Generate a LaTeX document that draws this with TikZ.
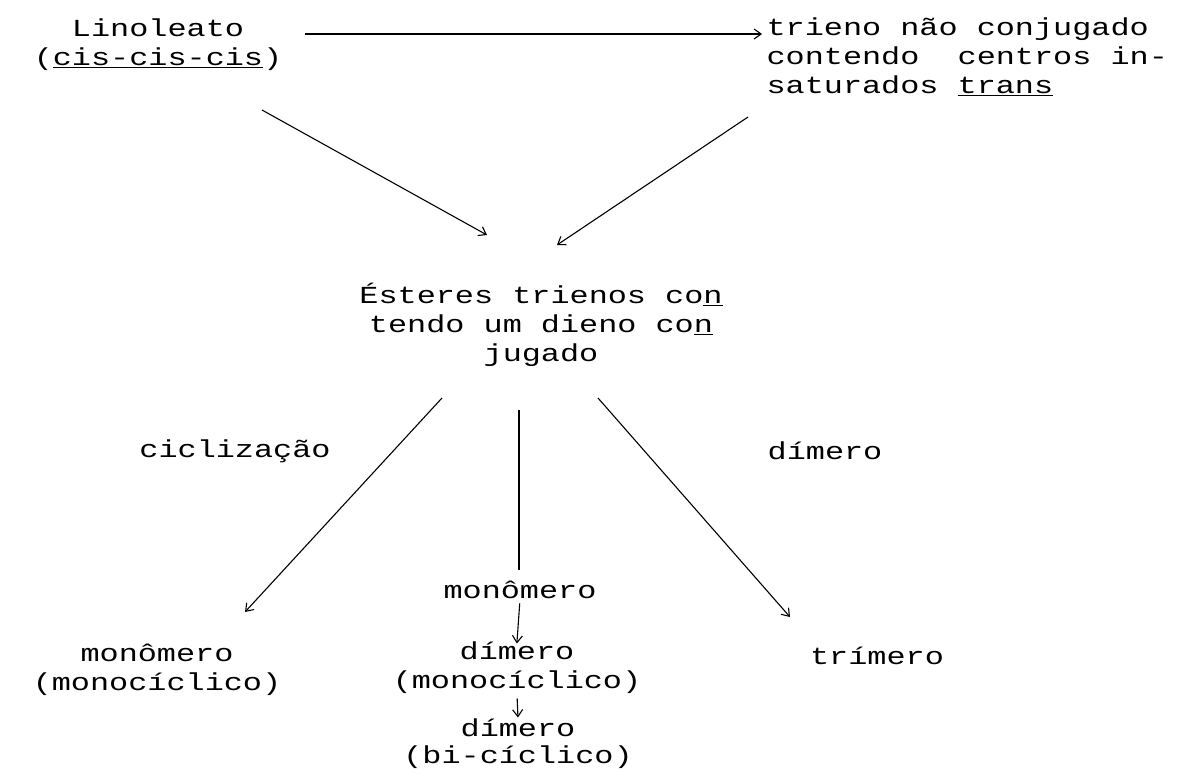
\documentclass[tikz,border=0pt]{standalone}
\usepackage{fontspec}
\newfontfamily\typew{Liberation Mono}[FakeStretch=1.3]
\usetikzlibrary{calc,arrows.meta}
\tikzset {>={Straight Barb[length=7pt,width=10pt]}}
\tikzset{txt/.style={font=\typew\fontsize{24.5}{29}\selectfont,inner sep=0pt,align=center}}

\begin{document}
\begin{tikzpicture}[x=1pt,y=1pt,line width=1.1pt]
\useasboundingbox (0,0) rectangle (1191,-773);
\node[txt] (lin) at (158,-45) {Linoleato\\(\underline{cis-cis-cis})};
\node[txt,anchor=west,align=left] (trans) at (766,-57) {trieno não conjugado\\contendo\ \ centros in-\\saturados \underline{trans}};
\node[txt] (est) at (541,-325) {Ésteres trienos co\underline{n}\\tendo um dieno co\underline{n}\\jugado};
\node[txt] (cicl) at (235,-451) {ciclização};
\node[txt] (dimlab) at (825,-451) {dímero};
\node[txt] (mono) at (157,-670) {monômero\\(monocíclico)};
\node[txt] (trim) at (877,-656) {trímero};
\node[txt] (mmid) at (520,-590) {monômero};
\node[txt] (dim1) at (517,-668) {dímero\\(monocíclico)};
\node[txt,font=\typew\fontsize{24.5}{27}\selectfont] (dim2) at (518,-744) {dímero\\(bi-cíclico)};
% setas de cima
\draw[->] ($(lin)+(147,11)$) -- ($(trans.west)+(-4,23)$);
\draw[->] ($(lin)+(104,-65)$) -- ($(est)+(-54,90)$);
\draw[->] ($(trans.west)+(-18,-60)$) -- ($(est)+(16,80)$);
% ramos de baixo
\draw[->] ($(est)+(-99,-73)$) -- ($(mono)+(88,58)$);
\draw ($(est)+(-22,-85)$) -- ($(mmid)+(-1,20)$);
\draw[->] ($(est)+(57,-73)$) -- ($(trim)+(-87,39)$);
\draw[->,shorten <=4pt,shorten >=-2pt] (mmid.south) -- (dim1.north);
\draw[->,shorten <=4pt,shorten >=1pt] (dim1.south) -- (dim2.north);
\end{tikzpicture}
\end{document}
